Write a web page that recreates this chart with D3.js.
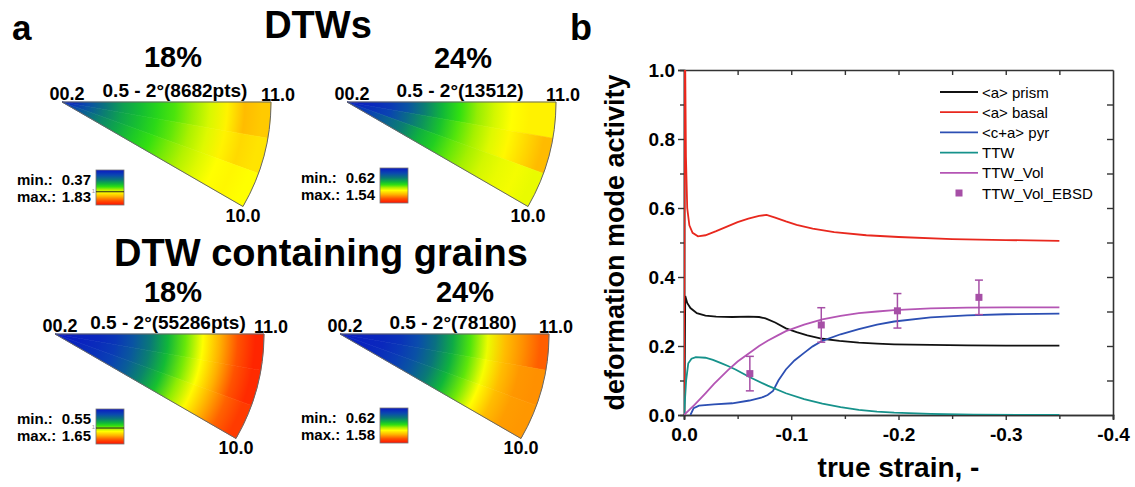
<!DOCTYPE html>
<html>
<head>
<meta charset="utf-8">
<script src="https://cdn.jsdelivr.net/npm/d3@7"></script>
<style>
body { margin: 0; background: #fff; }
svg text { font-family: "Liberation Sans", Arial, Helvetica, sans-serif; }
</style>
</head>
<body>
<svg id="fig" width="1135" height="487"></svg>
<script>
// ---------- panel a : pole figure densities (multiples of random) ----------
// rows = angular bands from the [11.0] edge (0-10, 10-20, 20-30 deg), cols = from 00.2 apex out to the arc
var ipfTitles = ["18%", "24%", "18%", "24%"];
var ipfSubtitles = ["0.5 - 2°(8682pts)", "0.5 - 2°(13512)", "0.5 - 2°(55286pts)", "0.5 - 2°(78180)"];
var ipfMin = [0.37, 0.62, 0.55, 0.62];
var ipfMax = [1.83, 1.54, 1.65, 1.58];
var ipfUnitLine = [true, false, true, false];
var poleLabels = ["00.2", "11.0", "10.0"];

var dtw18 = [
    [0.39, 0.48, 0.57, 0.65, 0.71, 0.77, 0.82, 0.89, 0.97, 1.06, 1.21, 1.17],
    [0.41, 0.50, 0.59, 0.66, 0.72, 0.78, 0.84, 0.91, 0.98, 1.06, 1.13, 1.10],
    [0.45, 0.53, 0.61, 0.67, 0.74, 0.80, 0.86, 0.92, 0.98, 1.03, 1.05, 1.03]
];
var dtw24 = [
    [0.63, 0.65, 0.68, 0.73, 0.81, 0.89, 0.96, 1.02, 1.07, 1.11, 1.13, 1.13],
    [0.64, 0.67, 0.70, 0.77, 0.84, 0.91, 0.98, 1.03, 1.08, 1.12, 1.17, 1.22],
    [0.67, 0.70, 0.76, 0.81, 0.88, 0.93, 0.99, 1.03, 1.07, 1.09, 1.10, 1.09]
];
var grains18 = [
    [0.56, 0.57, 0.58, 0.61, 0.67, 0.75, 0.85, 0.97, 1.11, 1.27, 1.44, 1.58],
    [0.56, 0.57, 0.59, 0.62, 0.68, 0.76, 0.86, 0.98, 1.11, 1.27, 1.44, 1.56],
    [0.57, 0.58, 0.60, 0.63, 0.69, 0.77, 0.87, 1.00, 1.12, 1.27, 1.41, 1.51]
];
var grains24 = [
    [0.63, 0.64, 0.65, 0.67, 0.72, 0.79, 0.88, 0.99, 1.11, 1.24, 1.31, 1.39],
    [0.63, 0.64, 0.65, 0.68, 0.73, 0.80, 0.89, 1.00, 1.12, 1.24, 1.30, 1.31],
    [0.64, 0.64, 0.66, 0.69, 0.74, 0.81, 0.90, 1.01, 1.13, 1.24, 1.29, 1.30]
];
var ipfGrids = [dtw18, dtw24, grains18, grains24];

// ---------- panel b : deformation mode activity vs true strain ----------
var seriesNames = ["<a> prism", "<a> basal", "<c+a> pyr", "TTW", "TTW_Vol"];
var seriesColors = ["#111111", "#e8281e", "#2c4fb3", "#16928b", "#b455b4"];

var prism = [[0,0],[-0.0012,0.345],[-0.003,0.325],[-0.006,0.31],[-0.012,0.295],[-0.02,0.288],[-0.03,0.285],
    [-0.045,0.284],[-0.06,0.285],[-0.07,0.284],[-0.076,0.28],[-0.085,0.268],[-0.095,0.251],[-0.105,0.24],
    [-0.115,0.231],[-0.129,0.221],[-0.145,0.215],[-0.163,0.21],[-0.18,0.207],[-0.196,0.205],[-0.23,0.203],
    [-0.264,0.202],[-0.3,0.201],[-0.35,0.201]];
var basal = [[0,0],[-0.0008,1.15],[-0.0018,0.75],[-0.003,0.6],[-0.005,0.55],[-0.008,0.528],[-0.013,0.518],
    [-0.02,0.521],[-0.03,0.533],[-0.04,0.546],[-0.05,0.559],[-0.06,0.569],[-0.07,0.577],[-0.077,0.58],
    [-0.085,0.572],[-0.095,0.561],[-0.105,0.551],[-0.12,0.54],[-0.14,0.53],[-0.17,0.521],[-0.2,0.516],
    [-0.25,0.51],[-0.3,0.507],[-0.35,0.505]];
var pyr = [[-0.006,0],[-0.009,0.02],[-0.014,0.027],[-0.028,0.031],[-0.045,0.034],[-0.061,0.042],[-0.072,0.05],
    [-0.078,0.058],[-0.083,0.07],[-0.088,0.1],[-0.095,0.132],[-0.103,0.158],[-0.112,0.18],[-0.12,0.199],
    [-0.129,0.215],[-0.146,0.234],[-0.163,0.249],[-0.18,0.262],[-0.196,0.271],[-0.23,0.283],[-0.264,0.289],
    [-0.3,0.292],[-0.35,0.294]];
var ttw = [[0,0],[-0.002,0.1],[-0.004,0.15],[-0.007,0.163],[-0.011,0.168],[-0.02,0.166],[-0.027,0.16],
    [-0.034,0.151],[-0.041,0.142],[-0.048,0.132],[-0.061,0.11],[-0.078,0.085],[-0.095,0.063],[-0.112,0.046],
    [-0.129,0.033],[-0.146,0.023],[-0.163,0.015],[-0.18,0.01],[-0.196,0.007],[-0.23,0.003],[-0.27,0.001],[-0.35,0]];
var ttwVol = [[0,0],[-0.01,0.03],[-0.02,0.063],[-0.028,0.09],[-0.041,0.13],[-0.05,0.155],[-0.061,0.18],
    [-0.07,0.2],[-0.078,0.215],[-0.087,0.23],[-0.095,0.243],[-0.112,0.262],[-0.129,0.277],[-0.146,0.287],
    [-0.163,0.295],[-0.18,0.3],[-0.196,0.304],[-0.23,0.309],[-0.264,0.311],[-0.3,0.312],[-0.35,0.312]];
var allSeries = [prism, basal, pyr, ttw, ttwVol];

var ebsdStrain = [-0.0614, -0.128, -0.199, -0.275];
var ebsdVol = [0.12, 0.261, 0.302, 0.341];
var ebsdErr = [0.05, 0.05, 0.05, 0.05];

var xTicks = [0, -0.1, -0.2, -0.3, -0.4];
var yTicks = [0, 0.2, 0.4, 0.6, 0.8, 1.0];

var svg = d3.select("#fig");
var defs = svg.append("defs");

// jet-like map used by the pole figures
var rampStops = [0, 0.15, 0.28, 0.40, 0.48, 0.56, 0.64, 0.76, 0.88, 1];
var rampColors = ["#0a18c4", "#0a48b0", "#0a7878", "#10b838", "#30e010", "#a8f000", "#ffff00", "#ffb000", "#ff5000", "#ff1000"];
var ramp = d3.scaleLinear().domain(rampStops).range(rampColors).clamp(true);

var grad = defs.append("linearGradient")
    .attr("id", "ramp").attr("x1", 0).attr("y1", 0).attr("x2", 0).attr("y2", 1);
grad.selectAll("stop").data(rampStops).enter().append("stop")
    .attr("offset", function(d) { return d; })
    .attr("stop-color", function(d, i) { return rampColors[i]; });

// ---------- panel a ----------
svg.append("text").attr("x", 12).attr("y", 40).style("font-size", "35px").style("font-weight", "bold").text("a");
svg.append("text").attr("x", 318).attr("y", 38).attr("text-anchor", "middle")
    .style("font-size", "38px").style("font-weight", "bold").text("DTWs");
svg.append("text").attr("x", 321).attr("y", 266).attr("text-anchor", "middle")
    .style("font-size", "38px").style("font-weight", "bold").text("DTW containing grains");

var R = 209;
var ipfLayout = [
    {ax: 62, ay: 102, px: 173, py: 67, bx: 96, by: 170},
    {ax: 347, ay: 102, px: 463, py: 68, bx: 380, by: 168},
    {ax: 55, ay: 334, px: 173, py: 302, bx: 96, by: 409},
    {ax: 340, ay: 334, px: 465, py: 302, bx: 380, by: 408}
];
var boxW = 28, boxH = 35;

function drawIpf(i) {
    var L = ipfLayout[i];
    var grid = ipfGrids[i];
    var nR = grid[0].length;
    var tScale = d3.scaleLog().domain([ipfMin[i], ipfMax[i]]).range([0, 1]).clamp(true);
    var aScale = d3.scaleLinear().domain([0, grid.length]).range([Math.PI / 2, Math.PI / 2 + Math.PI / 6]);
    var arc = d3.arc();

    var g = svg.append("g").attr("transform", "translate(" + L.ax + "," + L.ay + ")");

    // one angular band per row, shaded radially through the row's density values
    grid.forEach(function(row, a) {
        var id = "ipf" + i + "_" + a;
        var rg = defs.append("radialGradient").attr("id", id)
            .attr("gradientUnits", "userSpaceOnUse")
            .attr("cx", 0).attr("cy", 0).attr("fx", 0).attr("fy", 0).attr("r", R);
        rg.selectAll("stop").data(row).enter().append("stop")
            .attr("offset", function(d, r) { return (r + 0.5) / nR; })
            .attr("stop-color", function(d) { return ramp(tScale(d)); });
    });

    g.selectAll(".band").data(grid).enter().append("path")
        .attr("class", "band")
        .attr("d", function(d, a) {
            return arc({innerRadius: 0, outerRadius: R, startAngle: aScale(a), endAngle: aScale(a + 1)});
        })
        .attr("fill", function(d, a) { return "url(#ipf" + i + "_" + a + ")"; })
        .attr("stroke", function(d, a) { return "url(#ipf" + i + "_" + a + ")"; })
        .attr("stroke-width", 0.6);

    g.append("path")
        .attr("d", arc({innerRadius: 0, outerRadius: R, startAngle: Math.PI / 2, endAngle: Math.PI * 2 / 3}))
        .attr("fill", "none").attr("stroke", "#666").attr("stroke-width", 1);

    var cx = R * Math.cos(Math.PI / 6), cy = R * Math.sin(Math.PI / 6);
    var lab = function(x, y, txt, size) {
        g.append("text").attr("x", x).attr("y", y).attr("text-anchor", "middle")
            .style("font-size", size + "px").style("font-weight", "bold").text(txt);
    };
    lab(5, -2, poleLabels[0], 18);
    lab(R + 7, -1, poleLabels[1], 18);
    lab(cx, cy + 15, poleLabels[2], 18);
    lab(113, -5, ipfSubtitles[i], 19);

    svg.append("text").attr("x", L.px).attr("y", L.py).attr("text-anchor", "middle")
        .style("font-size", "29px").style("font-weight", "bold").text(ipfTitles[i]);

    // colour key
    var k = svg.append("g").attr("transform", "translate(" + L.bx + "," + L.by + ")");
    k.append("rect").attr("width", boxW).attr("height", boxH)
        .attr("fill", "url(#ramp)").attr("stroke", "#777").attr("stroke-width", 0.8);
    if (ipfUnitLine[i]) {
        var yy = tScale(1) * boxH;
        k.append("line").attr("x1", 0).attr("x2", boxW).attr("y1", yy).attr("y2", yy)
            .attr("stroke", "#222").attr("stroke-width", 1);
        k.append("text").attr("x", -1).attr("y", yy + 1).attr("text-anchor", "end")
            .style("font-size", "6px").style("fill", "#999").text("1");
    }
    var keyRows = [["min.:", ipfMin[i]], ["max.:", ipfMax[i]]];
    keyRows.forEach(function(row, j) {
        var by = 15 + j * 17;
        k.append("text").attr("x", -79).attr("y", by)
            .style("font-size", "15px").style("font-weight", "bold").text(row[0]);
        k.append("text").attr("x", -5).attr("y", by).attr("text-anchor", "end")
            .style("font-size", "15px").style("font-weight", "bold").text(row[1].toFixed(2));
    });
}
for (var i = 0; i < 4; i++) drawIpf(i);

// ---------- panel b ----------
svg.append("text").attr("x", 570).attr("y", 40).style("font-size", "36px").style("font-weight", "bold").text("b");

var plot = {left: 684, right: 1113, top: 70, bottom: 415};
var x = d3.scaleLinear().domain([0, -0.4]).range([plot.left, plot.right]);
var y = d3.scaleLinear().domain([0, 1]).range([plot.bottom, plot.top]);

defs.append("clipPath").attr("id", "plotClip").append("rect")
    .attr("x", plot.left).attr("y", plot.top)
    .attr("width", plot.right - plot.left).attr("height", plot.bottom - plot.top);

var fmtX = function(d) { return d === 0 ? "0.0" : "-" + Math.abs(d).toFixed(1); };
var minorX = d3.range(1, 8, 2).map(function(k) { return -0.05 * k; });
var minorY = d3.range(1, 10, 2).map(function(k) { return 0.1 * k; });
var allY = d3.range(1, 10).map(function(k) { return 0.1 * k; });
var allX = d3.range(1, 8).map(function(k) { return -0.05 * k; });

function styleAxis(g) {
    g.selectAll("path").attr("stroke", "#333").attr("stroke-width", 1.6);
    g.selectAll("line").attr("stroke", "#333").attr("stroke-width", 1.4);
    g.selectAll("text").style("font-size", "19px").style("font-weight", "bold")
        .style("font-family", "'Liberation Sans', Arial, sans-serif").attr("fill", "#000");
}

// bottom
svg.append("g").attr("transform", "translate(0," + plot.bottom + ")")
    .call(d3.axisBottom(x).tickValues(minorX).tickSize(4).tickFormat(""))
    .call(styleAxis);
svg.append("g").attr("transform", "translate(0," + plot.bottom + ")")
    .call(d3.axisBottom(x).tickValues(xTicks).tickSize(5).tickPadding(8).tickFormat(fmtX))
    .call(styleAxis);
// top (inward ticks)
svg.append("g").attr("transform", "translate(0," + plot.top + ")")
    .call(d3.axisBottom(x).tickValues(allX).tickSize(5).tickSizeOuter(0).tickFormat(""))
    .call(styleAxis);
// left
svg.append("g").attr("transform", "translate(" + plot.left + ",0)")
    .call(d3.axisLeft(y).tickValues(minorY).tickSize(4).tickFormat(""))
    .call(styleAxis);
svg.append("g").attr("transform", "translate(" + plot.left + ",0)")
    .call(d3.axisLeft(y).tickValues(yTicks).tickSize(6).tickPadding(3).tickFormat(d3.format(".1f")))
    .call(styleAxis);
// right (inward ticks)
svg.append("g").attr("transform", "translate(" + plot.right + ",0)")
    .call(d3.axisLeft(y).tickValues(allY).tickSize(6).tickSizeOuter(0).tickFormat(""))
    .call(styleAxis);

svg.append("text").attr("x", (plot.left + plot.right) / 2).attr("y", 477).attr("text-anchor", "middle")
    .style("font-size", "28px").style("font-weight", "bold").text("true strain, -");
svg.append("text").attr("transform", "translate(624," + (plot.top + plot.bottom) / 2 + ") rotate(-90)")
    .attr("text-anchor", "middle")
    .style("font-size", "27px").style("font-weight", "bold").text("deformation mode activity");

var line = d3.line().x(function(d) { return x(d[0]); }).y(function(d) { return y(d[1]); });
var curves = svg.append("g").attr("clip-path", "url(#plotClip)");
curves.selectAll(".curve").data(allSeries).enter().append("path")
    .attr("class", "curve")
    .attr("d", line)
    .attr("fill", "none")
    .attr("stroke", function(d, i) { return seriesColors[i]; })
    .attr("stroke-width", 1.8);

// EBSD volume fraction with error bars
var ebsdColor = "#a64fa6";
var eb = svg.append("g").selectAll(".ebsd").data(ebsdStrain).enter().append("g").attr("class", "ebsd");
eb.append("line")
    .attr("x1", function(d) { return x(d); }).attr("x2", function(d) { return x(d); })
    .attr("y1", function(d, i) { return y(ebsdVol[i] + ebsdErr[i]); })
    .attr("y2", function(d, i) { return y(ebsdVol[i] - ebsdErr[i]); })
    .attr("stroke", ebsdColor).attr("stroke-width", 1.5);
[1, -1].forEach(function(s) {
    eb.append("line")
        .attr("x1", function(d) { return x(d) - 4; }).attr("x2", function(d) { return x(d) + 4; })
        .attr("y1", function(d, i) { return y(ebsdVol[i] + s * ebsdErr[i]); })
        .attr("y2", function(d, i) { return y(ebsdVol[i] + s * ebsdErr[i]); })
        .attr("stroke", ebsdColor).attr("stroke-width", 1.5);
});
eb.append("rect")
    .attr("x", function(d) { return x(d) - 3.5; })
    .attr("y", function(d, i) { return y(ebsdVol[i]) - 3.5; })
    .attr("width", 7).attr("height", 7)
    .attr("fill", ebsdColor);

// legend
var legendNames = seriesNames.concat(["TTW_Vol_EBSD"]);
var leg = svg.append("g").attr("transform", "translate(940,92)");
var rows = leg.selectAll(".legRow").data(legendNames).enter().append("g")
    .attr("class", "legRow")
    .attr("transform", function(d, i) { return "translate(0," + (i * 20.2) + ")"; });
rows.filter(function(d, i) { return i < 5; }).append("line")
    .attr("x1", 0).attr("x2", 38).attr("y1", 0).attr("y2", 0)
    .attr("stroke", function(d, i) { return seriesColors[i]; }).attr("stroke-width", 1.8);
rows.filter(function(d, i) { return i === 5; }).append("rect")
    .attr("x", 15.5).attr("y", -3.5).attr("width", 7).attr("height", 7).attr("fill", ebsdColor);
rows.append("text").attr("x", 42).attr("y", 5.5)
    .style("font-size", "15px").text(function(d) { return d; });
</script>
</body>
</html>
